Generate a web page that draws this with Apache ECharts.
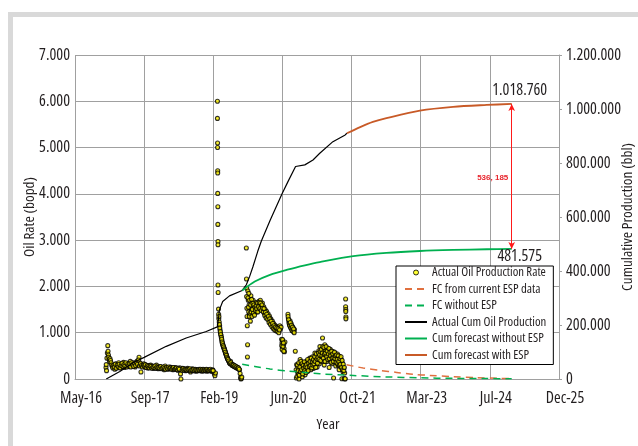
<!DOCTYPE html>
<html>
<head>
<meta charset="utf-8">
<script src="https://cdn.jsdelivr.net/npm/echarts@6/dist/echarts.min.js"></script>
<style>
html,body{margin:0;padding:0;background:#fff;}
#chart{width:638px;height:446px;}
</style>
</head>
<body>
<div id="chart"></div>
<script>
// ---------- DATA ----------
const xTickLabels = ['May-16','Sep-17','Feb-19','Jun-20','Oct-21','Mar-23','Jul-24','Dec-25'];

// Actual oil production rate (bopd) : [date, rate]
const rateData = [
// Dec 2016 - Feb 2019
['2016-12-20',250],['2016-12-22',310],['2016-12-24',180],['2016-12-27',450],['2016-12-30',560],
['2017-01-02',720],['2017-01-04',600],['2017-01-07',520],['2017-01-09',470],['2017-01-12',420],
['2017-01-15',380],['2017-01-18',440],['2017-01-22',400],['2017-01-26',350],['2017-01-30',300],
['2017-02-04',270],['2017-02-08',240],['2017-02-15',300],['2017-02-22',210],['2017-03-01',330],
['2017-03-08',280],['2017-03-15',250],['2017-03-22',350],['2017-03-29',300],['2017-04-05',260],
['2017-04-12',320],['2017-04-19',290],['2017-04-26',360],['2017-05-03',250],['2017-05-10',310],
['2017-05-17',280],['2017-05-24',340],['2017-05-31',300],['2017-06-07',270],['2017-06-14',380],
['2017-06-21',320],['2017-06-28',290],['2017-07-05',350],['2017-07-12',300],['2017-07-19',260],
['2017-07-26',330],['2017-08-02',390],['2017-08-09',300],['2017-08-16',470],['2017-08-23',350],
['2017-08-30',150],['2017-09-06',310],['2017-09-13',280],['2017-09-20',330],['2017-09-27',260],
['2017-10-04',300],['2017-10-11',270],['2017-10-18',240],['2017-10-25',290],['2017-11-01',260],
['2017-11-08',300],['2017-11-15',250],['2017-11-22',280],['2017-11-29',230],['2017-12-06',270],
['2017-12-13',240],['2017-12-20',300],['2017-12-27',250],['2018-01-03',220],['2018-01-10',270],
['2018-01-17',240],['2018-01-24',260],['2018-01-31',230],['2018-02-07',250],['2018-02-14',200],
['2018-02-21',280],['2018-03-01',230],['2018-03-08',250],['2018-03-15',210],['2018-03-22',240],
['2018-03-29',260],['2018-04-05',220],['2018-04-12',250],['2018-04-19',200],['2018-04-26',230],
['2018-05-03',245],['2018-05-10',210],['2018-05-17',230],['2018-05-24',190],['2018-05-31',220],
['2018-06-07',240],['2018-06-12',110],['2018-06-15',0],['2018-06-21',210],['2018-06-28',230],
['2018-07-05',200],['2018-07-12',220],['2018-07-19',180],['2018-07-26',210],['2018-08-02',230],
['2018-08-09',190],['2018-08-16',210],['2018-08-23',150],['2018-08-30',200],['2018-09-06',220],
['2018-09-13',180],['2018-09-20',200],['2018-09-27',210],['2018-10-04',170],['2018-10-11',200],
['2018-10-18',190],['2018-10-25',210],['2018-11-01',180],['2018-11-08',200],['2018-11-15',170],
['2018-11-22',210],['2018-11-29',190],['2018-12-06',180],['2018-12-13',200],['2018-12-20',170],
['2018-12-27',190],['2019-01-03',200],['2019-01-10',180],['2019-01-17',190],['2019-01-24',170],
['2019-01-31',200],['2019-02-07',150],['2019-02-12',110],['2019-02-16',70],['2019-02-20',130],
['2017-02-18',260],['2017-02-25',320],['2017-03-04',230],['2017-03-11',300],['2017-03-18',270],
['2017-03-25',320],['2017-04-01',240],['2017-04-08',290],['2017-04-15',340],['2017-04-22',270],
['2017-04-29',310],['2017-05-06',280],['2017-05-13',350],['2017-05-20',260],['2017-05-27',320],
['2017-06-03',290],['2017-06-10',330],['2017-06-17',260],['2017-06-24',350],['2017-07-01',310],
['2017-07-08',270],['2017-07-15',340],['2017-07-22',290],['2017-07-29',360],['2017-08-05',320],
['2017-08-12',410],['2017-08-19',280],['2017-08-26',330],['2017-09-02',290],['2017-09-09',260],
['2017-09-16',300],['2017-09-23',280],['2017-09-30',310],['2017-10-07',250],['2017-10-14',290],
['2017-10-21',270],['2017-10-28',240],['2017-11-04',280],['2017-11-11',270],['2017-11-18',230],
['2017-11-25',260],['2017-12-02',250],['2017-12-09',280],['2017-12-16',230],['2017-12-23',260],
['2017-12-30',240],['2018-01-06',250],['2018-01-13',230],['2018-01-20',270],['2018-01-27',220],
['2018-02-03',240],['2018-02-10',260],['2018-02-17',230],['2018-02-24',210],['2018-03-04',250],
['2018-03-11',220],['2018-03-18',260],['2018-03-25',230],['2018-04-01',240],['2018-04-08',210],
['2018-04-15',230],['2018-04-22',250],['2018-04-29',210],['2018-05-06',220],['2018-05-13',240],
['2018-05-20',200],['2018-05-27',230],['2018-06-03',210],['2018-06-24',190],['2018-07-01',220],
['2018-07-08',190],['2018-07-15',210],['2018-07-22',200],['2018-07-29',190],['2018-08-05',210],
['2018-08-12',200],['2018-08-19',220],['2018-08-26',180],['2018-09-02',200],['2018-09-09',190],
['2018-09-16',210],['2018-09-23',180],['2018-09-30',200],['2018-10-07',190],['2018-10-14',180],
['2018-10-21',200],['2018-10-28',190],['2018-11-04',210],['2018-11-11',190],['2018-11-18',200],
['2018-11-25',180],['2018-12-02',200],['2018-12-09',190],['2018-12-16',210],['2018-12-23',200],
['2018-12-30',180],['2019-01-06',190],['2019-01-13',210],['2019-01-20',180],['2019-01-27',190],
['2019-02-03',180],
// Mar 2019 stimulation spike and decline
['2019-03-06',6000],['2019-03-06',5630],['2019-03-07',5100],['2019-03-07',5000],['2019-03-08',4500],
['2019-03-08',4450],['2019-03-08',4010],['2019-03-09',3720],['2019-03-09',3340],['2019-03-10',2970],
['2019-03-10',2900],['2019-03-10',2030],['2019-03-11',1870],
['2019-03-14',1510],['2019-03-16',1300],['2019-03-19',1230],['2019-03-22',1150],['2019-03-25',1060],
['2019-03-28',990],['2019-04-01',940],['2019-04-04',890],['2019-04-07',830],['2019-04-10',780],
['2019-04-14',740],['2019-04-18',700],['2019-04-22',670],['2019-04-26',640],['2019-04-30',600],
['2019-05-04',560],['2019-05-08',530],['2019-05-12',490],['2019-05-16',460],['2019-05-20',430],
['2019-05-25',400],['2019-05-30',370],['2019-06-04',340],['2019-06-09',380],['2019-06-14',330],
['2019-06-20',300],['2019-06-26',310],['2019-07-02',280],['2019-07-08',290],['2019-07-14',260],
['2019-07-20',270],['2019-07-26',240],['2019-08-01',250],['2019-08-07',220],['2019-08-13',200],
['2019-08-17',120],['2019-08-20',30],['2019-08-23',0],['2019-08-26',10],['2019-08-29',40],
['2019-03-15',1400],['2019-03-17',1350],['2019-03-20',1180],['2019-03-23',1100],['2019-03-27',1020],
['2019-03-30',960],['2019-04-03',900],['2019-04-06',860],['2019-04-09',800],['2019-04-12',760],
['2019-04-16',720],['2019-04-20',690],['2019-04-24',650],['2019-04-28',620],['2019-05-02',580],
['2019-05-06',540],['2019-05-10',510],['2019-05-14',470],['2019-05-18',440],['2019-05-22',420],
['2019-05-27',390],['2019-06-01',350],['2019-06-06',330],['2019-06-11',350],['2019-06-17',310],
['2019-06-23',290],['2019-06-29',300],['2019-07-05',270],['2019-07-11',280],['2019-07-17',250],
['2019-07-23',260],['2019-07-29',230],['2019-08-04',240],['2019-08-10',210],
// Oct 2019 - Sep 2020
['2019-10-01',2830],['2019-10-02',2160],['2019-10-04',1960],['2019-10-03',1780],['2019-10-05',1530],
['2019-10-06',1350],['2019-10-08',1150],['2019-10-10',740],['2019-10-09',475],
['2019-10-12',1900],['2019-10-15',1700],['2019-10-18',1450],['2019-10-21',1600],['2019-10-24',1380],
['2019-10-27',1550],['2019-10-30',1250],['2019-11-03',1800],['2019-11-06',1650],['2019-11-09',1500],
['2019-11-12',1420],['2019-11-15',1580],['2019-11-19',1700],['2019-11-23',1550],['2019-11-27',1480],
['2019-12-01',1620],['2019-12-05',1530],['2019-12-09',1650],['2019-12-13',1450],['2019-12-17',1560],
['2019-12-21',1500],['2019-12-26',1610],['2019-12-31',1680],['2020-01-05',1590],['2020-01-10',1700],
['2020-01-15',1620],['2020-01-20',1550],['2020-01-25',1640],['2020-01-30',1480],['2020-02-04',1560],
['2020-02-09',1420],['2020-02-14',1500],['2020-02-19',1380],['2020-02-24',1460],['2020-03-01',1330],
['2020-03-06',1410],['2020-03-11',1280],['2020-03-16',1360],['2020-03-21',1230],['2020-03-26',1300],
['2020-04-01',1180],['2020-04-06',1250],['2020-04-11',1140],['2020-04-16',1200],['2020-04-21',1100],
['2020-04-26',1160],['2020-05-01',1080],['2020-05-06',1130],['2020-05-11',1060],['2020-05-16',1120],
['2020-05-21',1050],['2020-05-26',1100],['2020-05-30',1150],['2020-06-03',1080],['2020-06-08',1120],
['2019-10-13',1750],['2019-10-16',1550],['2019-10-19',1850],['2019-10-22',1350],['2019-10-25',1700],
['2019-10-28',1420],['2019-11-01',1600],['2019-11-05',1450],['2019-11-08',1720],['2019-11-11',1350],
['2019-11-14',1500],['2019-11-18',1630],['2019-11-21',1420],['2019-11-25',1600],['2019-11-29',1380],
['2019-12-03',1550],['2019-12-07',1480],['2019-12-11',1580],['2019-12-15',1520],['2019-12-19',1640],
['2019-12-23',1450],['2019-12-28',1560],['2020-01-02',1650],['2020-01-07',1520],['2020-01-12',1640],
['2020-01-17',1480],['2020-01-22',1600],['2020-01-27',1530],['2020-02-01',1450],['2020-02-06',1520],
['2020-02-11',1370],['2020-02-16',1440],['2020-02-21',1320],['2020-02-26',1400],['2020-03-03',1290],
['2020-03-08',1350],['2020-03-13',1220],['2020-03-18',1300],['2020-03-23',1180],['2020-03-28',1250],
['2020-04-03',1130],['2020-04-08',1200],['2020-04-13',1090],['2020-04-18',1150],['2020-04-23',1060],
['2020-04-28',1120],['2020-05-03',1040],['2020-05-08',1100],['2020-05-13',1030],['2020-05-18',1080],
['2020-05-23',1000],['2020-05-28',1060],
['2020-06-12',860],['2020-06-15',780],['2020-06-18',700],['2020-06-21',820],['2020-06-24',620],
['2020-06-27',740],['2020-06-30',660],['2020-07-03',590],['2020-07-06',800],
['2020-06-13',720],['2020-06-16',640],['2020-06-19',850],['2020-06-22',700],['2020-06-25',780],
['2020-06-28',600],
['2020-07-28',1400],['2020-07-31',1300],['2020-08-04',1230],['2020-08-08',1170],['2020-08-12',1260],
['2020-08-16',1120],['2020-08-20',1200],['2020-08-24',1080],['2020-08-28',1140],['2020-09-01',1050],
['2020-09-05',1100],['2020-09-09',1020],['2020-09-13',1070],['2020-09-19',600],
['2020-07-29',1350],['2020-08-02',1280],['2020-08-06',1200],['2020-08-10',1150],['2020-08-14',1220],
['2020-08-18',1100],['2020-08-22',1160],['2020-08-26',1050],['2020-08-30',1120],['2020-09-03',1030],
['2020-09-07',1080],['2020-09-11',1000],
// Sep 2020 - Sep 2021
['2020-09-25',200],['2020-09-27',20],['2020-09-29',310],['2020-10-02',60],['2020-10-05',150],
['2020-10-08',250],['2020-10-12',100],['2020-10-16',0],['2020-10-20',180],['2020-10-24',420],
['2020-10-28',300],['2020-11-01',120],['2020-11-05',260],['2020-11-09',50],['2020-11-13',200],
['2020-11-17',330],['2020-11-21',150],['2020-11-25',280],['2020-11-29',90],['2020-12-03',350],
['2020-12-07',220],['2020-12-11',380],['2020-12-15',160],['2020-12-19',300],['2020-12-23',240],
['2020-12-28',420],['2021-01-02',450],['2021-01-06',330],['2021-01-10',200],['2021-01-14',390],
['2021-01-18',280],['2021-01-22',480],['2021-01-26',350],['2021-01-30',230],['2021-02-04',420],
['2021-02-08',560],['2021-02-12',310],['2021-02-16',470],['2021-02-20',380],['2021-02-24',260],
['2021-02-28',520],['2021-03-04',400],['2021-03-08',610],['2021-03-12',330],['2021-03-16',700],
['2021-03-20',480],['2021-03-24',560],['2021-03-28',380],['2021-04-01',650],['2021-04-04',885],
['2021-04-08',520],['2021-04-12',600],['2021-04-16',300],['2021-04-20',740],['2021-04-24',450],
['2021-04-28',620],['2021-05-02',540],['2021-05-06',380],['2021-05-10',670],['2021-05-14',470],
['2021-05-18',590],['2021-05-22',250],['2021-05-26',520],['2021-05-30',640],['2021-06-03',410],
['2021-06-07',560],['2021-06-11',330],['2021-06-15',600],['2021-06-19',480],['2021-06-23',20],
['2021-06-27',520],['2021-07-01',390],['2021-07-05',560],['2021-07-09',280],['2021-07-13',470],
['2021-07-17',350],['2021-07-21',540],['2021-07-25',300],['2021-07-29',440],['2021-08-02',200],
['2021-08-06',490],['2021-08-10',380],['2021-08-14',260],['2021-08-18',420],['2021-08-22',5],
['2021-08-26',340],['2021-08-30',150],['2021-09-03',240],['2021-09-07',10],['2021-09-11',130],
['2021-09-13',0],['2021-09-15',5],
['2020-10-04',300],['2020-10-10',180],['2020-10-14',350],['2020-10-18',80],['2020-10-22',260],
['2020-10-26',160],['2020-10-30',380],['2020-11-03',200],['2020-11-07',330],['2020-11-11',110],
['2020-11-15',290],['2020-11-19',230],['2020-11-23',370],['2020-11-27',180],['2020-12-01',270],
['2020-12-05',140],['2020-12-09',310],['2020-12-13',250],['2020-12-17',420],['2020-12-21',180],
['2020-12-25',340],['2020-12-30',270],['2021-01-04',380],['2021-01-08',290],['2021-01-12',450],
['2021-01-16',240],['2021-01-20',360],['2021-01-24',300],['2021-01-28',420],['2021-02-01',330],
['2021-02-06',480],['2021-02-10',380],['2021-02-14',250],['2021-02-18',540],['2021-02-22',430],
['2021-02-26',340],['2021-03-02',470],['2021-03-06',560],['2021-03-10',420],['2021-03-14',520],
['2021-03-18',600],['2021-03-22',400],['2021-03-26',640],['2021-03-30',500],['2021-04-02',560],
['2021-04-06',700],['2021-04-10',450],['2021-04-14',680],['2021-04-18',540],['2021-04-22',380],
['2021-04-26',560],['2021-04-30',700],['2021-05-04',480],['2021-05-08',600],['2021-05-12',420],
['2021-05-16',540],['2021-05-20',660],['2021-05-24',440],['2021-05-28',580],['2021-06-01',500],
['2021-06-05',360],['2021-06-09',600],['2021-06-13',450],['2021-06-17',540],['2021-06-21',380],
['2021-06-25',460],['2021-06-29',580],['2021-07-03',440],['2021-07-07',500],['2021-07-11',360],
['2021-07-15',520],['2021-07-19',420],['2021-07-23',330],['2021-07-27',500],['2021-07-31',380],
['2021-08-04',300],['2021-08-08',440],['2021-08-12',320],['2021-08-16',480],['2021-08-20',250],
['2021-08-24',400],['2021-08-28',200],['2021-09-01',320],['2021-09-05',180],['2021-09-09',250],
['2021-09-18',1730],['2021-09-18',1560],['2021-09-19',1500],['2021-09-19',1460],['2021-09-20',1340],
['2021-09-20',1300]
];

// Forecast rate (bopd) from current ESP data
const fcEspData = [
['2021-09-25',309],['2022-01-23',237],['2022-05-24',186],['2022-09-22',143],['2023-01-20',100],
['2023-05-21',78],['2023-11-06',50],['2024-04-24',28],['2024-10-09',13],['2025-01-01',8]
];
// Forecast rate (bopd) without ESP
const fcNoEspData = [
['2019-09-01',320],['2019-12-01',272],['2020-03-20',216],['2020-08-01',170],['2020-11-27',140],
['2021-03-15',112],['2021-11-12',76],['2022-07-10',45],['2023-03-09',25],['2023-11-04',14],
['2024-07-05',9],['2025-01-01',6]
];
// Actual cumulative oil production (bbl)
const cumActualData = [
['2016-12-22',0],['2017-03-30',28000],['2017-07-01',59000],['2017-09-22',80000],['2018-03-01',121000],
['2018-07-23',152000],['2018-12-15',176000],['2019-03-05',193000],['2019-03-09',200000],
['2019-03-14',225000],['2019-03-20',256000],['2019-04-13',287000],['2019-06-01',308000],
['2019-09-01',328000],['2019-10-01',349000],['2019-10-25',380000],['2019-11-17',415000],
['2019-12-22',472000],['2020-01-17',510000],['2020-03-22',589000],['2020-06-17',688000],
['2020-07-28',731000],['2020-09-21',787000],['2020-11-27',793000],['2021-01-25',811000],
['2021-03-15',836000],['2021-06-18',879000],['2021-09-15',904000],['2021-09-27',910000]
];
// Cumulative forecast without ESP (bbl)
const cumNoEspData = [
['2019-09-01',328000],['2019-12-01',361000],['2020-03-20',386000],['2020-08-01',406000],
['2020-11-27',421000],['2021-03-15',433000],['2021-11-12',455000],['2022-07-10',467000],
['2023-03-09',474000],['2023-11-04',478000],['2024-07-05',480500],['2025-01-01',481575]
];
// Cumulative forecast with ESP (bbl)
const cumEspData = [
['2021-09-27',910000],['2022-01-01',933000],['2022-04-03',952000],['2022-07-10',966000],
['2023-03-09',994000],['2023-11-04',1008000],['2024-07-05',1015000],['2025-01-01',1018760]
];
// Annotation
const forecastEnd = '2025-01-01';
const cumEspFinal = 1018760;
const cumNoEspFinal = 481575;
const gainLabel = '536, 185';

// ---------- HELPERS ----------
function serial(s){
  const p = s.split('-').map(Number);
  return Math.round((Date.UTC(p[0],p[1]-1,p[2]) - Date.UTC(1899,11,30)) / 86400000);
}
function conv(arr){ return arr.map(d => [serial(d[0]), d[1]]); }
function dots(v){ return String(Math.round(v)).replace(/\B(?=(\d{3})+(?!\d))/g,'.'); }

// pick the narrowest installed sans face (reference uses a condensed font)
const mctx = document.createElement('canvas').getContext('2d');
function emW(stretch, fam, s){
  mctx.font = (stretch ? stretch + ' ' : '') + '100px ' + fam;
  return mctx.measureText(s).width / 100;
}
const cands = [
  ['', "'Liberation Sans Narrow'"], ['', "'DejaVu Sans Condensed'"],
  ['condensed', "'Liberation Sans'"], ['condensed', "'DejaVu Sans'"],
  ['condensed', "'Noto Sans'"], ['condensed', "'Open Sans'"],
  ['', 'Roboto'], ['', "'Liberation Sans'"]
];
const probe = 'Actual Oil Production Rate 1.200.000';
let best = cands[0], bestW = Infinity;
cands.forEach(c => { const w = emW(c[0], c[1], probe); if (w < bestW - 0.01) { bestW = w; best = c; } });
const FW = best[0] || 'normal';
const FF = best[1] + ', sans-serif';
function fit(target, s, lo, hi){ return Math.max(lo, Math.min(hi, target / emW(best[0], best[1], s))); }
const tickSize = fit(55, '1.200.000', 11, 17);
const titleSize = fit(148, 'Cumulative Production (bbl)', 11, 17);
const legSize = fit(114, 'Actual Oil Production Rate', 9, 13);

const TXT = '#231f20';
const GRID = '#a0a0a0';
const ORANGE_D = '#e0703f';
const ORANGE = '#c85a27';
const GREEN = '#00b050';
const tStyle = (size) => ({fontFamily:FF, fontWeight:FW, fontSize:size, color:TXT});

const chart = echarts.init(document.getElementById('chart'), null, {renderer:'canvas'});
const xEnd = serial(forecastEnd);
const hideSym = {opacity:0};

const option = {
  animation: false,
  backgroundColor: '#fff',
  graphic: [
    {type:'rect', left:8, top:12, z:-10, shape:{width:630, height:5}, style:{fill:'#d9d9d9'}},
    {type:'rect', left:8, top:12, z:-10, shape:{width:5, height:434}, style:{fill:'#d9d9d9'}}
  ],
  grid: {left:75, right:79, top:55, bottom:67, containLabel:false, outerBoundsMode:'none'},
  legend: {
    orient:'vertical', left:396, top:266,
    backgroundColor:'#fff', borderColor:'#000', borderWidth:1, borderRadius:0,
    padding:[0,7,3,8], itemGap:3.5, itemWidth:22, itemHeight:5,
    textStyle:Object.assign(tStyle(legSize), {lineHeight:13}),
    data:[
      {name:'Actual Oil Production Rate', icon:'circle', itemStyle:{color:'#ffff00', borderColor:'#000', borderWidth:1}},
      {name:'FC from current ESP data', itemStyle:hideSym},
      {name:'FC without ESP', itemStyle:hideSym},
      {name:'Actual Cum Oil Production', itemStyle:hideSym},
      {name:'Cum forecast without ESP', itemStyle:hideSym},
      {name:'Cum forecast with ESP', itemStyle:hideSym}
    ]
  },
  xAxis: {
    type:'value', min:42500, max:46000, interval:500,
    name:'Year', nameLocation:'middle', nameGap:38, nameMoveOverlap:false,
    nameTextStyle:Object.assign(tStyle(titleSize), {padding:[0,0,0,22]}),
    axisLine:{show:true, lineStyle:{color:GRID}},
    axisTick:{show:false},
    splitLine:{show:true, lineStyle:{color:GRID, width:1}},
    axisLabel:Object.assign(tStyle(tickSize), {margin:11, padding:[0,0,0,12],
      formatter: v => xTickLabels[Math.round((v-42500)/500)] || ''})
  },
  yAxis: [
    {
      type:'value', min:0, max:7000, interval:1000, position:'left',
      name:'Oil Rate (bopd)', nameLocation:'middle', nameGap:38, nameMoveOverlap:false,
      nameTextStyle:tStyle(titleSize),
      axisLine:{show:false}, axisTick:{show:false},
      splitLine:{show:true, lineStyle:{color:GRID, width:1}},
      axisLabel:Object.assign(tStyle(tickSize), {margin:5, formatter: v => dots(v)})
    },
    {
      type:'value', min:0, max:1200000, interval:200000, position:'right',
      name:'Cumulative Production (bbl)', nameLocation:'middle', nameGap:61, nameMoveOverlap:false,
      nameTextStyle:tStyle(titleSize),
      axisLine:{show:true, lineStyle:{color:GRID}},
      axisTick:{show:true, inside:false, length:3, lineStyle:{color:GRID}},
      splitLine:{show:false},
      axisLabel:Object.assign(tStyle(tickSize), {margin:7, formatter: v => dots(v)})
    }
  ],
  series: [
    {
      name:'Actual Oil Production Rate', type:'scatter', yAxisIndex:0,
      symbol:'circle', symbolSize:4,
      itemStyle:{color:'#f7ee00', borderColor:'#000', borderWidth:1.1},
      data: conv(rateData), z:2
    },
    {
      name:'FC from current ESP data', type:'line', yAxisIndex:0, symbol:'none', smooth:0.3,
      lineStyle:{color:ORANGE_D, width:1.5, type:[7,5]}, itemStyle:{color:ORANGE_D},
      data: conv(fcEspData), z:3
    },
    {
      name:'FC without ESP', type:'line', yAxisIndex:0, symbol:'none', smooth:0.3,
      lineStyle:{color:GREEN, width:1.5, type:[7,5]}, itemStyle:{color:GREEN},
      data: conv(fcNoEspData), z:3
    },
    {
      name:'Actual Cum Oil Production', type:'line', yAxisIndex:1, symbol:'none',
      lineStyle:{color:'#000', width:1.2}, itemStyle:{color:'#000'},
      data: conv(cumActualData), z:3
    },
    {
      name:'Cum forecast without ESP', type:'line', yAxisIndex:1, symbol:'none', smooth:0.3,
      lineStyle:{color:GREEN, width:1.8}, itemStyle:{color:GREEN},
      data: conv(cumNoEspData), z:3,
      markPoint:{
        symbol:'circle', symbolSize:0, silent:true,
        label:Object.assign(tStyle(tickSize), {show:true, position:'inside', offset:[8,7],
          formatter: () => dots(cumNoEspFinal)}),
        data:[{coord:[xEnd, cumNoEspFinal]}]
      }
    },
    {
      name:'Cum forecast with ESP', type:'line', yAxisIndex:1, symbol:'none', smooth:0.3,
      lineStyle:{color:ORANGE, width:1.8}, itemStyle:{color:ORANGE},
      data: conv(cumEspData), z:3,
      markPoint:{
        symbol:'circle', symbolSize:0, silent:true,
        data:[
          {coord:[xEnd, cumEspFinal],
           label:Object.assign(tStyle(tickSize), {show:true, position:'inside', offset:[8,-14],
             formatter: () => dots(cumEspFinal)})},
          {coord:[xEnd, (cumEspFinal+cumNoEspFinal)/2],
           label:{show:true, position:'inside', offset:[-19,1], fontFamily:"'Liberation Sans',Arial,sans-serif",
             fontSize:8, fontWeight:'bold', color:'#e8242c', formatter: () => gainLabel}}
        ]
      },
      markLine:{
        silent:true, symbol:['arrow','arrow'], symbolSize:[5,7],
        label:{show:false},
        lineStyle:{color:'#ff1a1a', width:1, type:'solid'},
        data:[[{coord:[xEnd, cumEspFinal]},{coord:[xEnd, cumNoEspFinal]}]]
      }
    }
  ]
};
chart.setOption(option);
</script>
</body>
</html>
